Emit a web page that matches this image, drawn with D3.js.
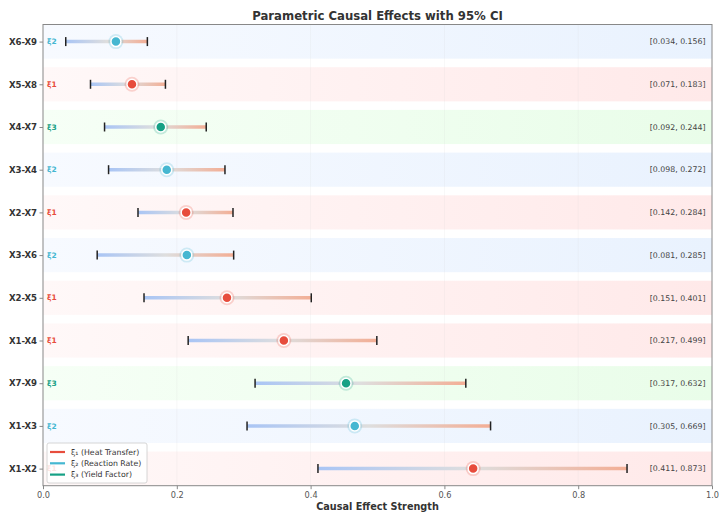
<!DOCTYPE html>
<html><head><meta charset="utf-8">
<script src="https://cdn.jsdelivr.net/npm/d3@7"></script>
<style>body{margin:0;background:#fff}svg{display:block;font-family:"DejaVu Sans",sans-serif}</style>
</head><body><svg id="c" width="719" height="512"></svg>
<script>
const pairs = ["X1-X2","X1-X3","X7-X9","X1-X4","X2-X5","X3-X6","X2-X7","X3-X4","X4-X7","X5-X8","X6-X9"];
const series = [1,2,3,1,1,2,1,2,3,1,2];
const estimates = [0.643,0.466,0.453,0.360,0.275,0.215,0.214,0.185,0.176,0.133,0.109];
const lower = [0.411,0.305,0.317,0.217,0.151,0.081,0.142,0.098,0.092,0.071,0.034];
const upper = [0.873,0.669,0.632,0.499,0.401,0.285,0.284,0.272,0.244,0.183,0.156];
const seriesNames = ["ξ₁ (Heat Transfer)","ξ₂ (Reaction Rate)","ξ₃ (Yield Factor)"];
const seriesTags = ["ξ1","ξ2","ξ3"];
const xTicks = [0,0.2,0.4,0.6,0.8,1.0];

const colors = {1:"#e74c3c",2:"#45b7d1",3:"#16a085"};
const bandCols = {1:["#fff8f8","#ffe9e9"],2:["#f7faff","#e9f2fe"],3:["#f6fff6","#e9fde9"]};

const svg = d3.select("#c");
const L=43, R=712, T=24.5, B=485.7;
const x = d3.scaleLinear().domain([0,1]).range([L,R]);
const y = d3.scaleLinear().domain([-0.4,10.4]).range([B,T]);
const defs = svg.append("defs");

[1,2,3].forEach(s=>{
  const g = defs.append("linearGradient").attr("id","band"+s).attr("x1","0").attr("x2","1").attr("y1","0").attr("y2","0");
  g.append("stop").attr("offset","0").attr("stop-color",bandCols[s][0]);
  g.append("stop").attr("offset","1").attr("stop-color",bandCols[s][1]);
});

// bands
svg.append("g").selectAll("rect").data(pairs).join("rect")
  .attr("x",L).attr("width",R-L)
  .attr("y",(d,i)=>y(i+0.4)).attr("height",(d,i)=>y(i-0.4)-y(i+0.4))
  .attr("fill",(d,i)=>`url(#band${series[i]})`);

// grid
svg.append("g").selectAll("line").data(xTicks.slice(1,-1)).join("line")
  .attr("x1",d=>x(d)).attr("x2",d=>x(d)).attr("y1",T).attr("y2",B)
  .attr("stroke","#d8d8d8").attr("stroke-width",0.6).attr("stroke-dasharray","1,1").attr("opacity",0.6);

// CI gradients
pairs.forEach((p,i)=>{
  const g = defs.append("linearGradient").attr("id","ci"+i).attr("gradientUnits","userSpaceOnUse")
    .attr("x1",x(lower[i])).attr("x2",x(upper[i])).attr("y1",0).attr("y2",0);
  g.append("stop").attr("offset","0").attr("stop-color","#a9c5f5");
  g.append("stop").attr("offset","0.5").attr("stop-color","#dedede");
  g.append("stop").attr("offset","1").attr("stop-color","#f3ae95");
});

const rows = svg.append("g").selectAll("g").data(pairs).join("g");
rows.append("line")
  .attr("x1",(d,i)=>x(lower[i])).attr("x2",(d,i)=>x(upper[i]))
  .attr("y1",(d,i)=>y(i)).attr("y2",(d,i)=>y(i))
  .attr("stroke",(d,i)=>`url(#ci${i})`).attr("stroke-width",3.5);
["lo","hi"].forEach(k=>{
  rows.append("line")
    .attr("x1",(d,i)=>x(k==="lo"?lower[i]:upper[i])).attr("x2",(d,i)=>x(k==="lo"?lower[i]:upper[i]))
    .attr("y1",(d,i)=>y(i)-4.5).attr("y2",(d,i)=>y(i)+4.5)
    .attr("stroke","#222").attr("stroke-width",1.5);
});
rows.append("circle").attr("cx",(d,i)=>x(estimates[i])).attr("cy",(d,i)=>y(i)).attr("r",7.5)
  .attr("fill",(d,i)=>colors[series[i]]).attr("fill-opacity",0.22);
rows.append("circle").attr("cx",(d,i)=>x(estimates[i])).attr("cy",(d,i)=>y(i)).attr("r",5)
  .attr("fill",(d,i)=>colors[series[i]]).attr("stroke","#fff").attr("stroke-width",1.5);
rows.append("text").attr("x",47).attr("y",(d,i)=>y(i)).attr("dy","0.35em")
  .attr("font-size",7.5).attr("font-weight","bold").attr("fill",(d,i)=>colors[series[i]])
  .text((d,i)=>seriesTags[series[i]-1]);
rows.append("text").attr("x",705.5).attr("y",(d,i)=>y(i)).attr("dy","0.35em").attr("text-anchor","end")
  .attr("font-size",7.8).attr("fill","#444")
  .text((d,i)=>`[${lower[i].toFixed(3)}, ${upper[i].toFixed(3)}]`);

// frame
svg.append("rect").attr("x",L).attr("y",T).attr("width",R-L).attr("height",B-T)
  .attr("fill","none").attr("stroke","#888").attr("stroke-width",1);

// x axis
const xa = svg.append("g").attr("transform",`translate(0,${B})`)
  .call(d3.axisBottom(x).tickValues(xTicks).tickFormat(d3.format(".1f")).tickSize(3.5).tickPadding(2.5));
xa.select(".domain").remove();
xa.selectAll("line").attr("stroke","#888");
xa.selectAll("text").attr("font-size",8.2).attr("fill","#555").attr("font-family","DejaVu Sans");

// y axis
const ya = svg.append("g").attr("transform",`translate(${L},0)`)
  .call(d3.axisLeft(y).tickValues(d3.range(pairs.length)).tickFormat(i=>pairs[i]).tickSize(3.5).tickPadding(2.5));
ya.select(".domain").remove();
ya.selectAll("line").attr("stroke","#888");
ya.selectAll("text").attr("font-size",8.6).attr("font-weight","bold").attr("fill","#333").attr("font-family","DejaVu Sans");

// title & label
svg.append("text").attr("x",(L+R)/2).attr("y",20).attr("text-anchor","middle")
  .attr("font-size",11.7).attr("font-weight","bold").attr("fill","#333").text("Parametric Causal Effects with 95% CI");
svg.append("text").attr("x",(L+R)/2).attr("y",510).attr("text-anchor","middle")
  .attr("font-size",9.7).attr("font-weight","bold").attr("fill","#333").text("Causal Effect Strength");

// legend
const lg = svg.append("g").attr("transform","translate(47,443)");
lg.append("rect").attr("width",100).attr("height",40).attr("rx",2).attr("fill","#fff").attr("fill-opacity",0.85)
  .attr("stroke","#cccccc").attr("stroke-width",0.8);
seriesNames.forEach((n,k)=>{
  const yy = 9 + k*11.3;
  lg.append("line").attr("x1",3).attr("x2",18).attr("y1",yy).attr("y2",yy).attr("stroke",colors[k+1]).attr("stroke-width",2.2);
  lg.append("text").attr("x",24).attr("y",yy).attr("dy","0.35em").attr("font-size",7.8).attr("fill","#333").text(n);
});
</script></body></html>
